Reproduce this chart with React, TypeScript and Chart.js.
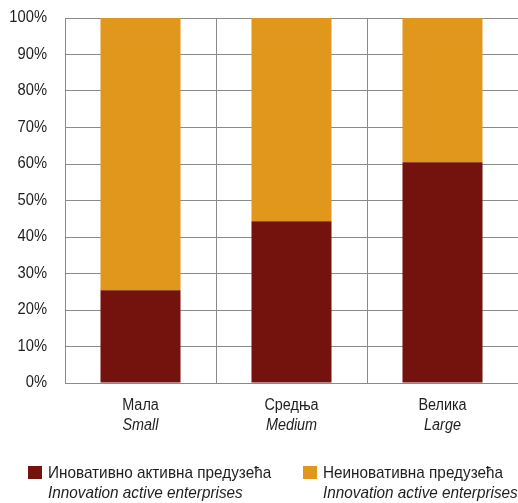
import React, { useEffect, useRef } from "react";
import { Chart, registerables } from "chart.js";

Chart.register(...registerables);

const categoriesSr = ["Мала", "Средња", "Велика"];
const categoriesEn = ["Small", "Medium", "Large"];
const innovativeValues = [25.4, 44.3, 60.5];
const nonInnovativeValues = [74.6, 55.7, 39.5];
const seriesSr = ["Иновативно активна предузећа", "Неиновативна предузећа"];
const seriesEn = ["Innovation active enterprises", "Innovation active enterprises"];
const colors = ["#74120E", "#E1971B"];

const FONT = '"Liberation Sans", Arial, sans-serif';
const TEXT = "#1e1e1e";

function drawText(ctx: any, text: string, x: number, y: number, align: string, font: string, sx: number) {
  ctx.save();
  ctx.translate(x, y);
  ctx.scale(sx, 1);
  ctx.font = font;
  ctx.textAlign = align;
  ctx.textBaseline = "middle";
  ctx.fillStyle = TEXT;
  ctx.fillText(text, 0, 0);
  ctx.restore();
}

const extraText = {
  id: "extraText",
  afterDraw(chart: any) {
    const ctx = chart.ctx;
    const xs = chart.scales.x;
    const ys = chart.scales.y;
    ys.ticks.forEach((t: any) => {
      drawText(ctx, `${t.value}%`, 47, ys.getPixelForValue(t.value), "right", `16px ${FONT}`, 0.92);
    });
    categoriesSr.forEach((t, i) => {
      drawText(ctx, t, xs.getPixelForValue(i), 406, "center", `16px ${FONT}`, 0.9);
    });
    categoriesEn.forEach((t, i) => {
      drawText(ctx, t, xs.getPixelForValue(i), 426, "center", `italic 16px ${FONT}`, 0.9);
    });
    const items = [
      { x: 28, tx: 48 },
      { x: 303, tx: 323 },
    ];
    items.forEach((it, i) => {
      ctx.fillStyle = colors[i];
      ctx.fillRect(it.x, 466, 14, 13);
      drawText(ctx, seriesSr[i], it.tx, 473, "left", `17px ${FONT}`, 0.9);
      drawText(ctx, seriesEn[i], it.tx, 493, "left", `italic 17px ${FONT}`, 0.9);
    });
  },
};

export default function App() {
  const ref = useRef<HTMLCanvasElement>(null);
  useEffect(() => {
    if (!ref.current) return;
    const chart = new Chart(ref.current, {
      type: "bar",
      data: {
        labels: categoriesSr,
        datasets: [
          {
            label: seriesSr[0],
            data: innovativeValues,
            backgroundColor: colors[0],
            barPercentage: 0.53,
            categoryPercentage: 1,
          },
          {
            label: seriesSr[1],
            data: nonInnovativeValues,
            backgroundColor: colors[1],
            barPercentage: 0.53,
            categoryPercentage: 1,
          },
        ],
      },
      options: {
        animation: false,
        responsive: false,
        maintainAspectRatio: false,
        layout: { padding: { top: 18, right: 0, bottom: 0, left: 0 } },
        plugins: { legend: { display: false }, tooltip: { enabled: false } },
        scales: {
          x: {
            stacked: true,
            offset: true,
            grid: { offset: true, color: "#8a8a8a", lineWidth: 1, drawTicks: false },
            border: { color: "#8a8a8a", width: 1 },
            ticks: { display: false },
            afterFit: (s: any) => {
              s.height = 120;
            },
          },
          y: {
            stacked: true,
            min: 0,
            max: 100,
            grid: { color: "#8a8a8a", lineWidth: 1, drawTicks: false },
            border: { color: "#8a8a8a", width: 1 },
            ticks: { stepSize: 10, display: false },
            afterFit: (s: any) => {
              s.width = 65;
            },
          },
        },
      },
      plugins: [extraText],
    });
    return () => chart.destroy();
  }, []);
  return (
    <div style={{ position: "fixed", left: 0, top: 0, width: 518, height: 503, background: "#fff" }}>
      <canvas ref={ref} width={518} height={503} style={{ width: 518, height: 503 }} />
    </div>
  );
}
